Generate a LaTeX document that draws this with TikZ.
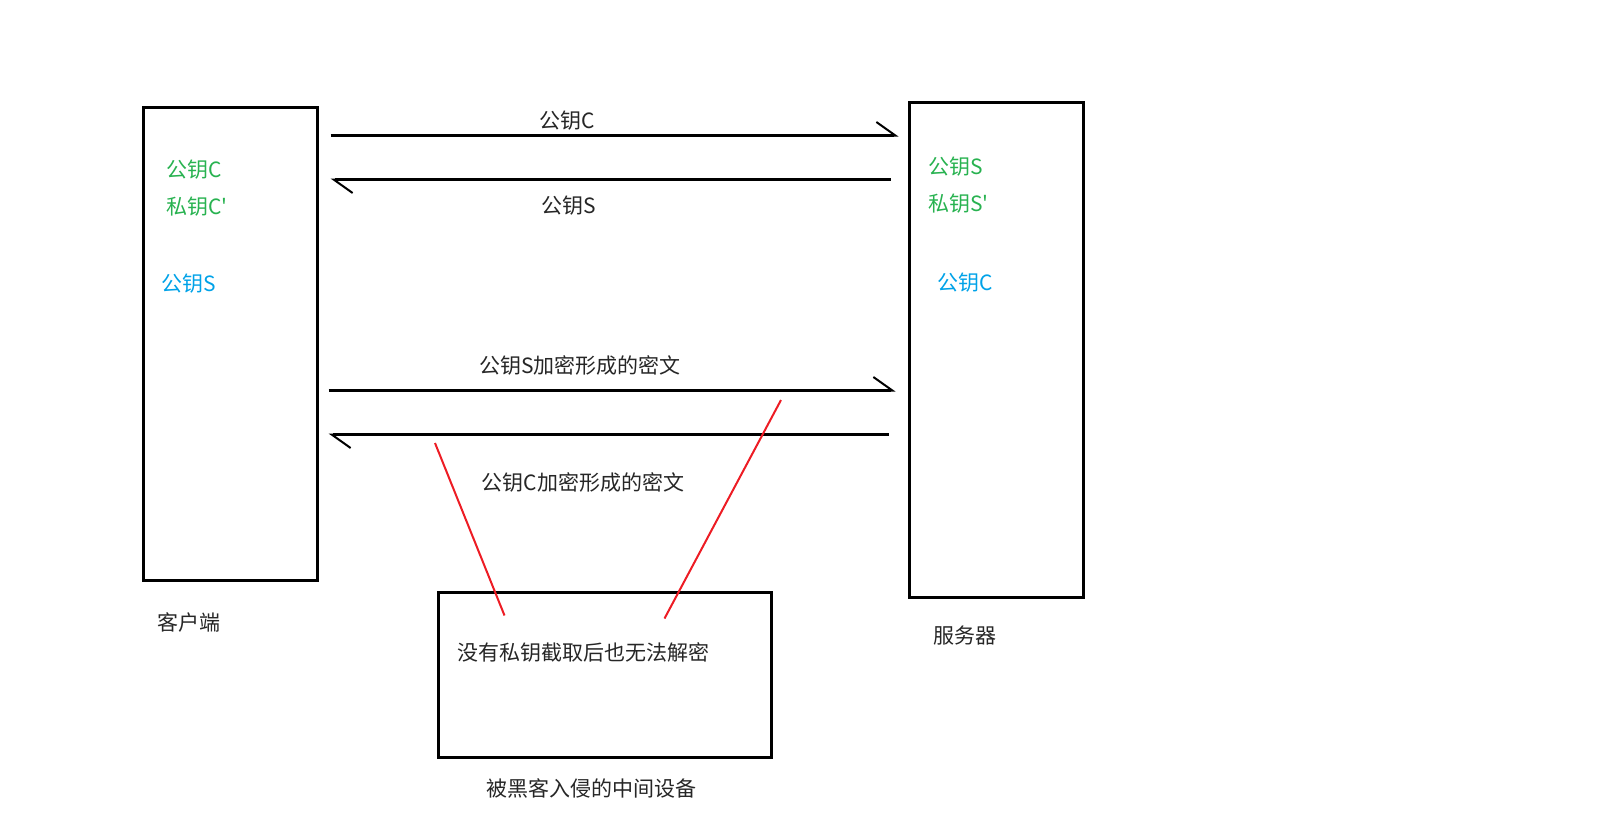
\documentclass[tikz,border=0pt]{standalone}
\usepackage{fontspec}
\setmainfont{Noto Sans CJK SC}[Ligatures=TeXOff]
\usetikzlibrary{arrows.meta, positioning}
\definecolor{keyGreen}{RGB}{40,178,80}
\definecolor{keyBlue}{RGB}{0,162,232}
\definecolor{hackRed}{RGB}{237,28,36}

\begin{document}
\begin{tikzpicture}[
  x=1pt, y=-1pt,
  box/.style={rectangle, draw=black, line width=3pt, inner sep=0pt},
  lbl/.style={inner sep=0pt, font=\fontsize{21}{25}\selectfont, text=black!85},
  greenKey/.style={lbl, anchor=west, text=keyGreen},
  blueKey/.style={lbl, anchor=west, text=keyBlue},
  arr/.style={-{Straight Barb[harpoon, length=19pt, width=27pt, line width=2pt]}, line width=2.5pt},
  hack/.style={draw=hackRed, line width=2pt}
]
\useasboundingbox (0,0) rectangle (1610,823);

% the three machines
\node[box, minimum width=174pt, minimum height=473pt] (cli) at (230,343.5) {};
\node[box, minimum width=174pt, minimum height=495pt] (srv) at (996,349.5) {};
\node[box, minimum width=333pt, minimum height=165pt] (mid) at (604.5,674.5) {};

\node[lbl] (cliName) at (189,622) {客户端};
\node[lbl] (srvName) at (965,636) {服务器};
\node[lbl] (midName) at (591,788) {被黑客入侵的中间设备};
\node[lbl, anchor=west] (midText) at (457,652) {没有私钥截取后也无法解密};

% keys held by each side
\node[greenKey] (cPub) at (166,170) {公钥C};
\node[greenKey] (cPriv) at (166,207) {私钥C'};
\node[blueKey] (cGot) at (161,284) {公钥S};
\node[greenKey] (sPub) at (928,167) {公钥S};
\node[greenKey] (sPriv) at (928,204) {私钥S'};
\node[blueKey] (sGot) at (937,283) {公钥C};

% exchange
\draw[arr] ([shift={(12,30)}]cli.north east) -- ([shift={(-9,35)}]srv.north west);
\draw[arr] ([shift={(-17,79)}]srv.north west) -- ([shift={(12,74)}]cli.north east);
\draw[arr] ([shift={(10,285)}]cli.north east) -- ([shift={(-12,290)}]srv.north west);
\draw[arr] ([shift={(-19,334)}]srv.north west) -- ([shift={(10,329)}]cli.north east);

\node[lbl] (m1) at (567,121) {公钥C};
\node[lbl] (m2) at (569,206) {公钥S};
\node[lbl] (m3) at (580,365) {公钥S加密形成的密文};
\node[lbl] (m4) at (583,482) {公钥C加密形成的密文};

% interception
\coordinate (tapL) at (435,443);
\coordinate (tapR) at (781,400);
\draw[hack] (tapL) -- ([shift={(68,25)}]mid.north west);
\draw[hack] (tapR) -- ([shift={(228,28)}]mid.north west);
\end{tikzpicture}
\end{document}
